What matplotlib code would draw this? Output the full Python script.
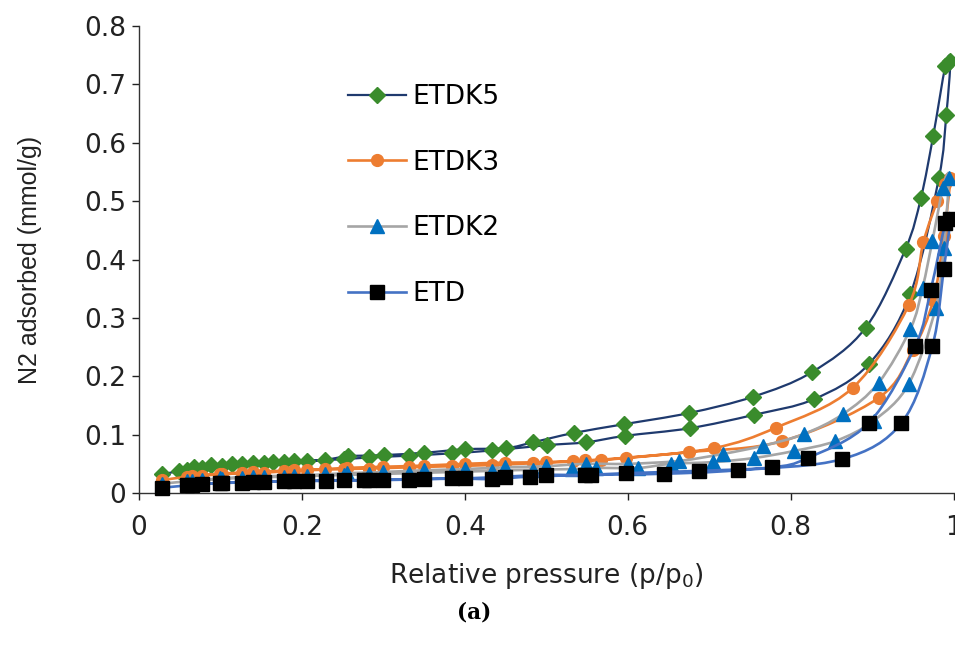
import numpy as np
import matplotlib
matplotlib.use('Agg')
import matplotlib.pyplot as plt
from matplotlib.path import Path
from matplotlib.patches import PathPatch
from matplotlib.lines import Line2D
from matplotlib.ticker import FuncFormatter

plt.rcParams['font.family'] = ['DejaVu Sans']

# ETDK5 (adsorcion / desorcion)
k5_ads_x = [0.028, 0.059, 0.077, 0.102, 0.126, 0.153, 0.178, 0.206, 0.252, 0.283, 0.332, 0.384,
            0.434, 0.501, 0.549, 0.597, 0.676, 0.755, 0.829, 0.896, 0.947, 0.982, 0.991, 0.996]
k5_ads_y = [0.032, 0.040, 0.043, 0.047, 0.049, 0.051, 0.053, 0.055, 0.058, 0.061, 0.064, 0.068,
            0.073, 0.082, 0.087, 0.098, 0.111, 0.134, 0.161, 0.221, 0.341, 0.540, 0.647, 0.740]
k5_des_x = [0.990, 0.975, 0.960, 0.941, 0.892, 0.826, 0.754, 0.675, 0.596, 0.534, 0.484, 0.451,
            0.400, 0.350, 0.301, 0.257, 0.228, 0.190, 0.165, 0.140, 0.114, 0.089, 0.067, 0.049]
k5_des_y = [0.732, 0.612, 0.506, 0.418, 0.283, 0.207, 0.165, 0.137, 0.118, 0.103, 0.087, 0.077,
            0.075, 0.069, 0.065, 0.063, 0.057, 0.054, 0.053, 0.051, 0.050, 0.048, 0.045, 0.038]

# ETDK3
k3_ads_x = [0.028, 0.059, 0.077, 0.102, 0.126, 0.153, 0.178, 0.206, 0.252, 0.283, 0.332, 0.384,
            0.433, 0.484, 0.533, 0.567, 0.675, 0.790, 0.908, 0.950, 0.975, 0.988, 0.996]
k3_ads_y = [0.022, 0.028, 0.030, 0.032, 0.034, 0.035, 0.037, 0.039, 0.041, 0.042, 0.044, 0.046,
            0.048, 0.051, 0.054, 0.057, 0.070, 0.089, 0.163, 0.245, 0.330, 0.440, 0.540]
k3_des_x = [0.990, 0.980, 0.963, 0.945, 0.876, 0.782, 0.706, 0.598, 0.547, 0.500, 0.449, 0.400,
            0.350, 0.300, 0.255, 0.228, 0.190, 0.140, 0.100, 0.065]
k3_des_y = [0.530, 0.500, 0.430, 0.322, 0.180, 0.112, 0.077, 0.060, 0.056, 0.053, 0.052, 0.050,
            0.047, 0.045, 0.043, 0.041, 0.039, 0.036, 0.033, 0.029]

# ETDK2
k2_ads_x = [0.028, 0.059, 0.077, 0.102, 0.126, 0.153, 0.178, 0.206, 0.252, 0.283, 0.332, 0.384,
            0.433, 0.484, 0.531, 0.561, 0.613, 0.653, 0.705, 0.755, 0.804, 0.855, 0.902, 0.945,
            0.978, 0.988, 0.994]
k2_ads_y = [0.016, 0.020, 0.022, 0.024, 0.026, 0.027, 0.028, 0.029, 0.031, 0.032, 0.034, 0.036,
            0.038, 0.040, 0.041, 0.043, 0.043, 0.050, 0.053, 0.060, 0.072, 0.089, 0.124, 0.187,
            0.317, 0.420, 0.540]
k2_des_x = [0.987, 0.974, 0.962, 0.947, 0.908, 0.864, 0.816, 0.766, 0.717, 0.663, 0.600, 0.549,
            0.500, 0.449, 0.400, 0.350, 0.300, 0.255, 0.228, 0.190, 0.140, 0.100, 0.065]
k2_des_y = [0.523, 0.432, 0.352, 0.281, 0.189, 0.135, 0.101, 0.081, 0.067, 0.055, 0.050, 0.050,
            0.046, 0.044, 0.041, 0.039, 0.036, 0.034, 0.032, 0.030, 0.028, 0.025, 0.021]

# ETD
e_ads_x = [0.028, 0.059, 0.077, 0.102, 0.126, 0.153, 0.178, 0.206, 0.252, 0.283, 0.332, 0.384,
           0.433, 0.480, 0.555, 0.644, 0.735, 0.863, 0.936, 0.974, 0.988, 0.996]
e_ads_y = [0.009, 0.013, 0.015, 0.017, 0.018, 0.019, 0.020, 0.021, 0.022, 0.022, 0.023, 0.025,
           0.024, 0.028, 0.031, 0.033, 0.039, 0.058, 0.120, 0.252, 0.384, 0.470]
e_des_x = [0.990, 0.972, 0.953, 0.896, 0.821, 0.777, 0.688, 0.598, 0.547, 0.500, 0.449, 0.400,
           0.350, 0.300, 0.276, 0.230, 0.190, 0.140, 0.100, 0.065]
e_des_y = [0.463, 0.348, 0.252, 0.120, 0.060, 0.044, 0.038, 0.034, 0.031, 0.031, 0.028, 0.025,
           0.024, 0.023, 0.022, 0.021, 0.020, 0.019, 0.017, 0.014]

etiquetas = ['ETDK5', 'ETDK3', 'ETDK2', 'ETD']


def curva_suave(x, y):
    # curva tipo "lineas suavizadas" de Excel (Catmull-Rom -> Bezier)
    pts = np.column_stack([x, y])
    n = len(pts)
    verts = [pts[0]]
    codes = [Path.MOVETO]
    for i in range(n - 1):
        p0 = pts[i - 1] if i > 0 else pts[i]
        p1 = pts[i]
        p2 = pts[i + 1]
        p3 = pts[i + 2] if i + 2 < n else p2
        verts += [p1 + (p2 - p0) / 6, p2 - (p3 - p1) / 6, p2]
        codes += [Path.CURVE4] * 3
    return Path(verts, codes)


series = [
    (k5_ads_x + k5_des_x, k5_ads_y + k5_des_y, '#1F3A6E', 1.6, 'D', 7.8, '#3A8C2C'),
    (k3_ads_x + k3_des_x, k3_ads_y + k3_des_y, '#ED7D31', 1.9, 'o', 8.5, '#ED7D31'),
    (k2_ads_x + k2_des_x, k2_ads_y + k2_des_y, '#A5A5A5', 1.9, '^', 10.5, '#0070C0'),
    (e_ads_x + e_des_x, e_ads_y + e_des_y, '#4472C4', 1.9, 's', 9.5, 'black'),
]

fig = plt.figure(figsize=(9.55, 6.53), dpi=100)
ax = fig.add_axes([0.1455, 0.245, 0.853, 0.715])

handles = []
for i, (x, y, lc, lw, m, ms, mc) in enumerate(series):
    z = 2 + i
    ax.add_patch(PathPatch(curva_suave(x, y), facecolor='none', edgecolor=lc, lw=lw,
                           zorder=z, clip_on=False))
    ax.plot(x, y, ls='none', marker=m, ms=ms, color=mc, mec=mc, zorder=z + 0.5, clip_on=False)
    handles.append(Line2D([], [], color=lc, lw=lw, marker=m, ms=ms, mfc=mc, mec=mc))

ax.set_xlim(0, 1)
ax.set_ylim(0, 0.8)
ax.set_xticks(np.arange(0, 1.01, 0.2))
ax.set_yticks(np.arange(0, 0.81, 0.1))
fmt = FuncFormatter(lambda v, p: f'{v:g}')
ax.xaxis.set_major_formatter(fmt)
ax.yaxis.set_major_formatter(fmt)
ax.tick_params(direction='out', length=5, width=1, labelsize=19, colors='#222222')
ax.tick_params(axis='x', pad=11)
ax.tick_params(axis='y', pad=4)
for s in ['top', 'right']:
    ax.spines[s].set_visible(False)
for s in ['left', 'bottom']:
    ax.spines[s].set_linewidth(1)
    ax.spines[s].set_color('#333333')

ax.set_xlabel('Relative pressure (p/p$_0$)', fontsize=19, labelpad=14, color='#222222')
fig.text(30 / 955, 1 - 260 / 653, 'N2 adsorbed (mmol/g)', rotation=90, ha='center',
         va='center', fontsize=18, family='Liberation Sans', color='#222222')

ax.legend(handles, etiquetas, loc='upper left', bbox_to_anchor=(348 / 955, 1 - 84 / 653),
          bbox_transform=fig.transFigure, frameon=False, fontsize=19, borderpad=0,
          borderaxespad=0, handlelength=2.2, handletextpad=0.25, labelspacing=1.5)

fig.text(474 / 955, 1 - 613 / 653, '(a)', ha='center', va='center', fontsize=15.5,
         family='DejaVu Serif', fontweight='bold')

fig.savefig('out.png', dpi=100)
